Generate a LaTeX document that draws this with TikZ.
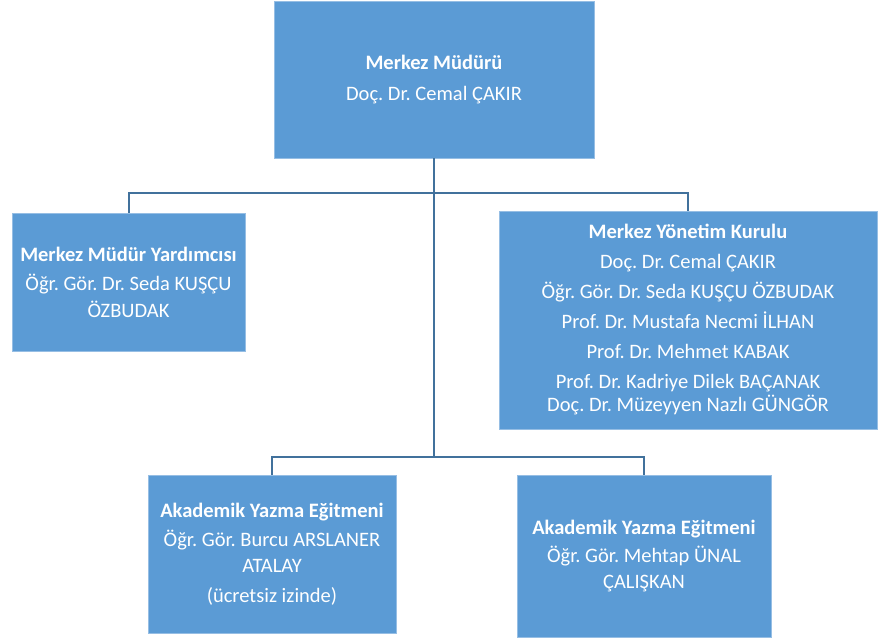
\documentclass[tikz,border=0pt]{standalone}
\usepackage{fontspec}
\setmainfont{Carlito}
\frenchspacing
\usetikzlibrary{positioning}
\definecolor{boxblue}{RGB}{91,155,213}
\definecolor{edgeblue}{RGB}{150,190,228}
\definecolor{linkblue}{RGB}{65,113,156}

\tikzset{
  unit/.style={draw=edgeblue, line width=0.8pt, fill=boxblue, text=white, align=center,
    inner sep=0pt, font=\fontsize{20.5}{23}\selectfont},
  link/.style={draw=linkblue, line width=2pt}
}

\begin{document}
\begin{tikzpicture}[x=1pt, y=-1pt]
  \useasboundingbox (0,0) rectangle (878,639);
  % top level
  \node[unit, minimum width=320pt, minimum height=157pt] (mudur) at (434,79.5)
    {\textbf{Merkez Müdürü}\\[8pt]Doç. Dr. Cemal ÇAKIR};
  % second level
  \node[unit, minimum width=233pt, minimum height=138pt] (yardimci) at (128.5,282)
    {\textbf{Merkez Müdür Yardımcısı}\\[6pt]Öğr. Gör. Dr. Seda KUŞÇU\\[4pt]ÖZBUDAK};
  \node[unit, minimum width=378pt, minimum height=218pt] (kurul) at (688,320)
    {\textbf{Merkez Yönetim Kurulu}\\[7pt]Doç. Dr. Cemal ÇAKIR\\[7pt]Öğr. Gör. Dr. Seda KUŞÇU ÖZBUDAK\\[7pt]
     Prof. Dr. Mustafa Necmi İLHAN\\[7pt]Prof. Dr. Mehmet KABAK\\[7pt]
     Prof. Dr. Kadriye Dilek BAÇANAK\\Doç. Dr. Müzeyyen Nazlı GÜNGÖR};
  % third level
  \node[unit, minimum width=248pt, minimum height=158pt] (egitmenA) at (272,554)
    {\textbf{Akademik Yazma Eğitmeni}\\[6pt]Öğr. Gör. Burcu ARSLANER\\[3pt]ATALAY\\[7pt](ücretsiz izinde)};
  \node[unit, minimum width=254pt, minimum height=162pt] (egitmenB) at (644,556)
    {\textbf{Akademik Yazma Eğitmeni}\\[5pt]Öğr. Gör. Mehtap ÜNAL\\[3pt]ÇALIŞKAN};

  \coordinate (busA) at (434,193);
  \coordinate (busB) at (434,457);
  \draw[link] (mudur.south) -- (busB);
  \draw[link] (yardimci.north) |- (busA) -| (kurul.north);
  \draw[link] (egitmenA.north) |- (busB) -| (egitmenB.north);
\end{tikzpicture}
\end{document}
